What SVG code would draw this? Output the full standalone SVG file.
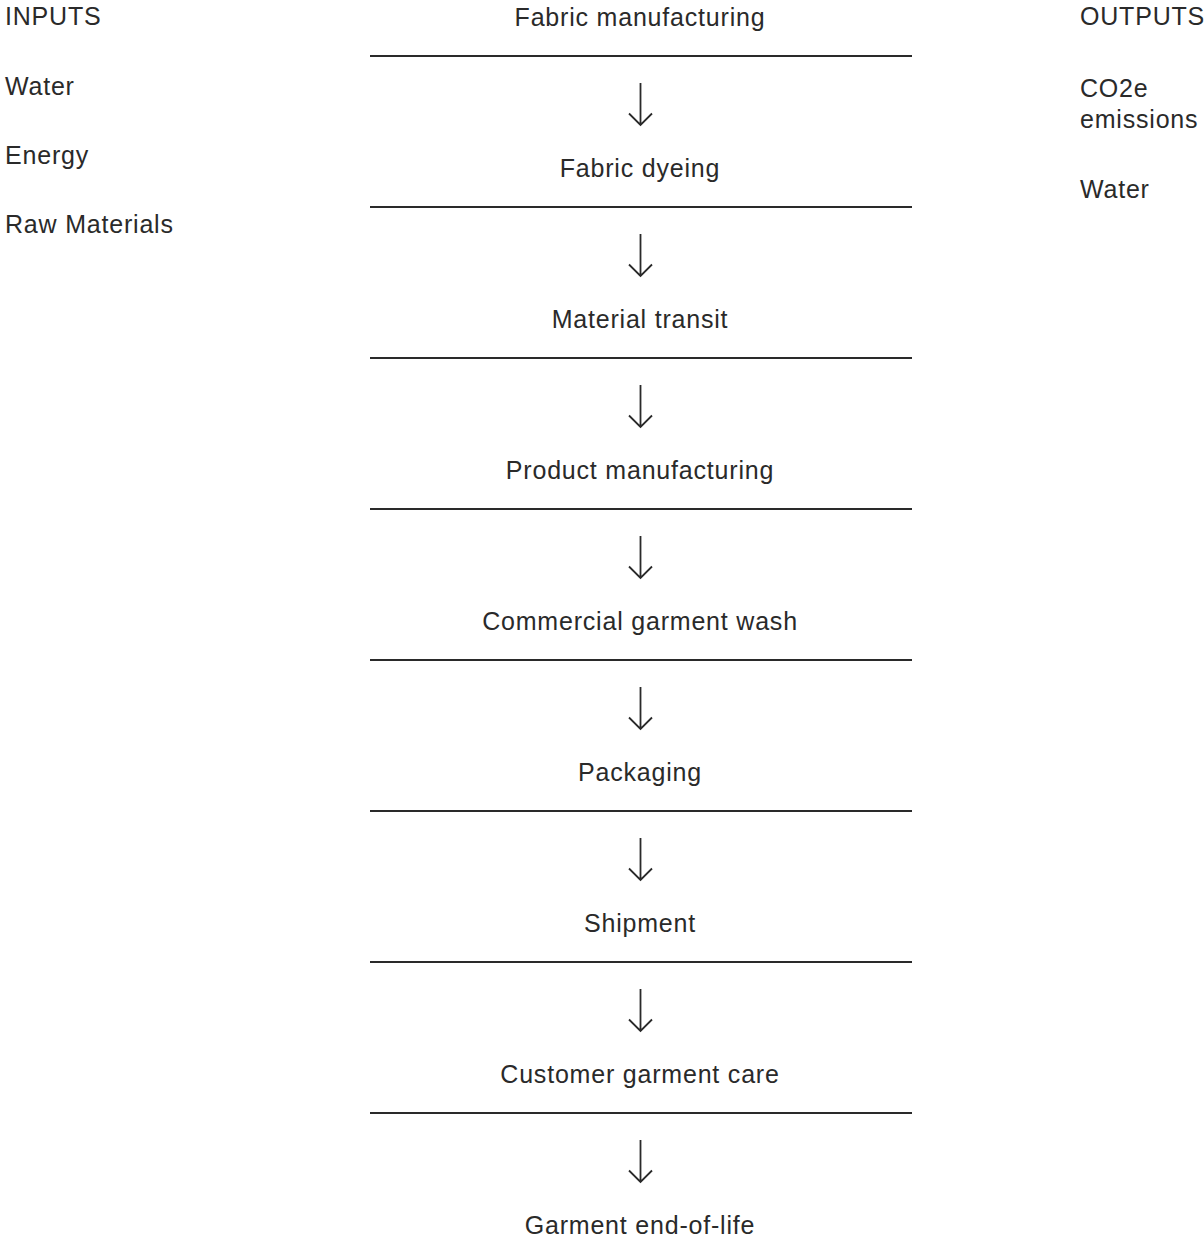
<svg xmlns="http://www.w3.org/2000/svg" width="1204" height="1237" viewBox="0 0 1204 1237">
<style>
text{font-family:"Liberation Sans",Arial,sans-serif;font-size:25px;letter-spacing:0.8px;fill:#2a2a2a}
.c{text-anchor:middle}
.sep{stroke:#2a2a2a;stroke-width:2}
.arr{fill:none;stroke:#2a2a2a;stroke-width:1.8;stroke-linecap:butt;stroke-linejoin:miter}
</style>
<rect width="1204" height="1237" fill="#ffffff"/>
<g id="inputs">
<text x="5" y="25">INPUTS</text>
<text x="5" y="95">Water</text>
<text x="5" y="164">Energy</text>
<text x="5" y="233">Raw Materials</text>
</g>
<g id="outputs">
<text x="1080" y="25">OUTPUTS</text>
<text x="1080" y="97">CO2e</text>
<text x="1080" y="128">emissions</text>
<text x="1080" y="198">Water</text>
</g>
<g id="separators">
<line class="sep" x1="370" y1="56" x2="912" y2="56"/>
<line class="sep" x1="370" y1="207" x2="912" y2="207"/>
<line class="sep" x1="370" y1="358" x2="912" y2="358"/>
<line class="sep" x1="370" y1="509" x2="912" y2="509"/>
<line class="sep" x1="370" y1="660" x2="912" y2="660"/>
<line class="sep" x1="370" y1="811" x2="912" y2="811"/>
<line class="sep" x1="370" y1="962" x2="912" y2="962"/>
<line class="sep" x1="370" y1="1113" x2="912" y2="1113"/>
</g>
<g id="stage1"><text class="c" x="640" y="26">Fabric manufacturing</text></g>
<g id="stage2"><text class="c" x="640" y="177">Fabric dyeing</text></g>
<g id="stage3"><text class="c" x="640" y="328">Material transit</text></g>
<g id="stage4"><text class="c" x="640" y="479">Product manufacturing</text></g>
<g id="stage5"><text class="c" x="640" y="630">Commercial garment wash</text></g>
<g id="stage6"><text class="c" x="640" y="781">Packaging</text></g>
<g id="stage7"><text class="c" x="640" y="932">Shipment</text></g>
<g id="stage8"><text class="c" x="640" y="1083">Customer garment care</text></g>
<g id="stage9"><text class="c" x="640" y="1234">Garment end-of-life</text></g>
<g id="connectors">
<path class="arr" d="M640.5 83V125M629 113.5L640.5 125L652 113.5"/>
<path class="arr" d="M640.5 234V276M629 264.5L640.5 276L652 264.5"/>
<path class="arr" d="M640.5 385V427M629 415.5L640.5 427L652 415.5"/>
<path class="arr" d="M640.5 536V578M629 566.5L640.5 578L652 566.5"/>
<path class="arr" d="M640.5 687V729M629 717.5L640.5 729L652 717.5"/>
<path class="arr" d="M640.5 838V880M629 868.5L640.5 880L652 868.5"/>
<path class="arr" d="M640.5 989V1031M629 1019.5L640.5 1031L652 1019.5"/>
<path class="arr" d="M640.5 1140V1182M629 1170.5L640.5 1182L652 1170.5"/>
</g>
</svg>
